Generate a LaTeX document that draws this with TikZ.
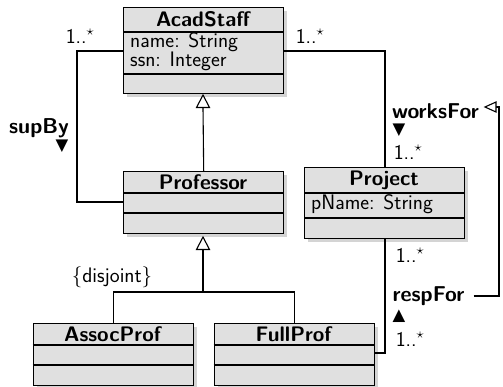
\documentclass[tikz,border=0pt]{standalone}
\usepackage{fontspec}
\newfontfamily\symfont{DejaVu Sans}
\usetikzlibrary{shadows}
\definecolor{boxgray}{HTML}{E0E0E0}
\definecolor{shadowgray}{HTML}{D4D4D4}
\begin{document}
\begin{tikzpicture}[x=1pt,y=-1pt,
  every node/.style={font=\sffamily\fontsize{21}{24}\selectfont},
  cls/.style={draw, line width=1.4pt, fill=boxgray, anchor=north west, inner sep=0pt, minimum width=160pt,
    drop shadow={shadow xshift=3.5pt, shadow yshift=-3.5pt, fill=shadowgray, opacity=1}},
  sepline/.style={line width=1.4pt},
  ctitle/.style={font=\sffamily\bfseries\fontsize{21}{24}\selectfont, inner sep=0pt},
  attr/.style={anchor=base west, inner sep=0pt},
  mult/.style={inner sep=0pt},
  aname/.style={font=\sffamily\bfseries\fontsize{21.5}{24}\selectfont, inner sep=0pt},
  tri/.style={font=\symfont\fontsize{16.5}{18}\selectfont, inner sep=0pt, text height=11pt, text depth=0pt},
  conn/.style={line width=1.1pt},
  head/.style={line width=1.1pt, fill=white, line join=miter}
]
\useasboundingbox (0,0) rectangle (503,386);

% AcadStaff
\node[cls, minimum height=86pt] (acad) at (123,7) {};
\draw[sepline] (123,32) -- (283,32);
\draw[sepline] (123,74) -- (283,74);
\node[ctitle] (acadT) at (203,19.5) {AcadStaff};
\node[attr] (acadA1) at (130,47) {name: String};
\node[attr] (acadA2) at (130,66) {ssn: Integer};

% Professor
\node[cls, minimum height=62pt] (prof) at (123,171) {};
\draw[sepline] (123,193) -- (283,193);
\draw[sepline] (123,213) -- (283,213);
\node[ctitle] (profT) at (203,182) {Professor};

% Project
\node[cls, minimum height=71pt] (proj) at (304,167) {};
\draw[sepline] (304,193) -- (464,193);
\draw[sepline] (304,218) -- (464,218);
\node[ctitle] (projT) at (384,180) {Project};
\node[attr] (projA1) at (311,209) {pName: String};

% AssocProf
\node[cls, minimum height=62pt] (assoc) at (32.5,323) {};
\draw[sepline] (32.5,345) -- (192.5,345);
\draw[sepline] (32.5,365) -- (192.5,365);
\node[ctitle] (assocT) at (112.5,334) {AssocProf};

% FullProf
\node[cls, minimum height=62pt] (full) at (213.5,323) {};
\draw[sepline] (213.5,345) -- (373.5,345);
\draw[sepline] (213.5,365) -- (373.5,365);
\node[ctitle] (fullT) at (293.5,334) {FullProf};

% generalization AcadStaff <- Professor
\coordinate (t1) at (203,95);
\draw[conn] (prof.north) -- ([yshift=-12.5pt]t1);
\draw[head] (t1) -- ++(-6.5,12.5) -- ++(13,0) -- cycle;

% generalization Professor <- AssocProf, FullProf
\coordinate (gj) at (203,292);
\coordinate (t2) at (203,237);
\draw[conn] (assoc.north) |- (gj);
\draw[conn] (full.north) |- (gj);
\draw[conn] (gj) -- ([yshift=-12.5pt]t2);
\draw[head] (t2) -- ++(-6.5,12.5) -- ++(13,0) -- cycle;
\node (disj) at (112,277) {\{disjoint\}};

% supBy
\coordinate (s1) at (77,51);
\coordinate (s2) at (77,202);
\draw[conn] (acad.west |- s1) -- (s1) -- (s2) -- (prof.west |- s2);
\node[mult] (m1) at (80,36) {1..$^\star$};
\node[aname] (supBy) at (39,128) {supBy};
\node[tri] (supByT) at (62,145) {▼};

% worksFor
\coordinate (w1) at (385,51);
\draw[conn] (acad.east |- w1) -- (w1) -- (proj.north -| w1);
\node[mult] (m2) at (310,36) {1..$^\star$};
\node[aname] (worksFor) at (435.5,111) {worksFor};
\node[tri] (worksForT) at (399,129) {▼};
\node[mult] (m3) at (408,152) {1..$^\star$};

% respFor
\coordinate (r1) at (385,353);
\draw[conn] (proj.south -| r1) -- (r1) -- (full.east |- r1);
\node[mult] (m4) at (410,255) {1..$^\star$};
\node[aname] (respFor) at (428.5,296) {respFor};
\node[tri] (respForT) at (399,315) {▲};
\node[mult] (m5) at (410,339) {1..$^\star$};

% constraint arrow
\coordinate (c1) at (499,296);
\coordinate (c2) at (499,107);
\coordinate (t3) at (485,107);
\draw[conn] ([xshift=9pt]respFor.east |- c1) -- (c1) -- (c2) -- ([xshift=11pt]t3);
\draw[head] (t3) -- ++(11,-5) -- ++(0,10) -- cycle;
\end{tikzpicture}
\end{document}
